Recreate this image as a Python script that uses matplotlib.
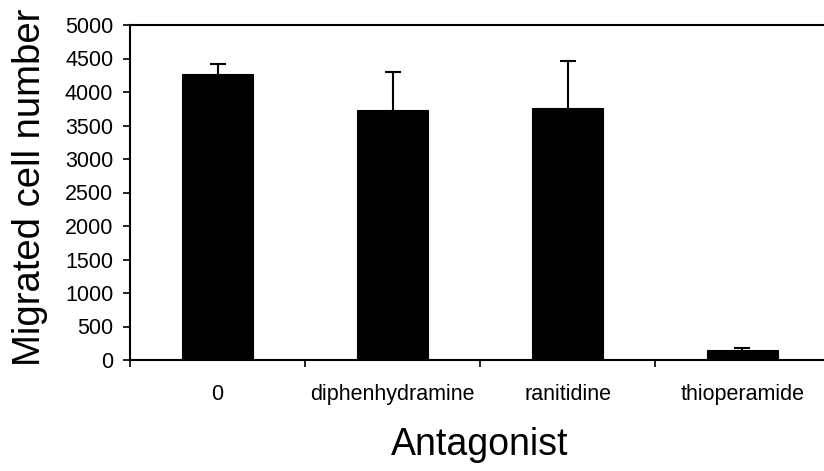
"""Bar chart of migrated cell numbers per histamine receptor antagonist."""

import matplotlib
matplotlib.use("Agg")
import matplotlib.pyplot as plt
import numpy

plt.rcParams["font.family"] = ["Liberation Sans", "DejaVu Sans"]

# Data:
antagonists = ["0", "diphenhydramine", "ranitidine", "thioperamide"]
migrated_cells = [4270, 3725, 3765, 150]
error_up = [145, 570, 700, 25]

y_ticks = list(range(0, 5001, 500))

fig = plt.figure(figsize=(8.24, 4.71), dpi=100)
# Axes runs past the right figure edge, as in the reference.
axe = fig.add_axes((130 / 824, 111 / 471, 700 / 824, 335 / 471))

positions = numpy.arange(len(antagonists))
axe.bar(positions, migrated_cells, width=0.41, color="black",
        edgecolor="black", linewidth=0.8, zorder=2)
lower = [0] * len(error_up)
_, caps, _ = axe.errorbar(positions, migrated_cells, yerr=[lower, error_up],
                          fmt="none", ecolor="black", elinewidth=1.5,
                          capsize=8 * 0.72, capthick=1.5, zorder=3)
caps[0].set_visible(False)  # only the upper whisker is drawn

axe.set_xlim(-0.5, len(antagonists) - 0.5)
axe.set_ylim(0, 5000)
axe.set_yticks(y_ticks)
axe.tick_params(axis="y", labelsize=15.5, length=5, width=1.2, pad=7,
                direction="out")

# Category labels centred under bars, ticks at category borders.
axe.set_xticks(positions, labels=antagonists, minor=False)
axe.set_xticks(numpy.arange(-0.5, len(antagonists)), minor=True)
axe.tick_params(axis="x", which="major", length=0, labelsize=15.5, pad=17)
axe.tick_params(axis="x", which="minor", length=5, width=1.2, direction="out")

for side in ("left", "bottom", "top"):
    axe.spines[side].set_linewidth(1.5)
axe.spines["right"].set_visible(False)

axe.set_xlabel("Antagonist", fontsize=27, labelpad=16)
axe.set_ylabel("Migrated cell number", fontsize=27.5)
axe.yaxis.set_label_coords(-0.117, 0.515)

fig.savefig("out.png", dpi=100)
